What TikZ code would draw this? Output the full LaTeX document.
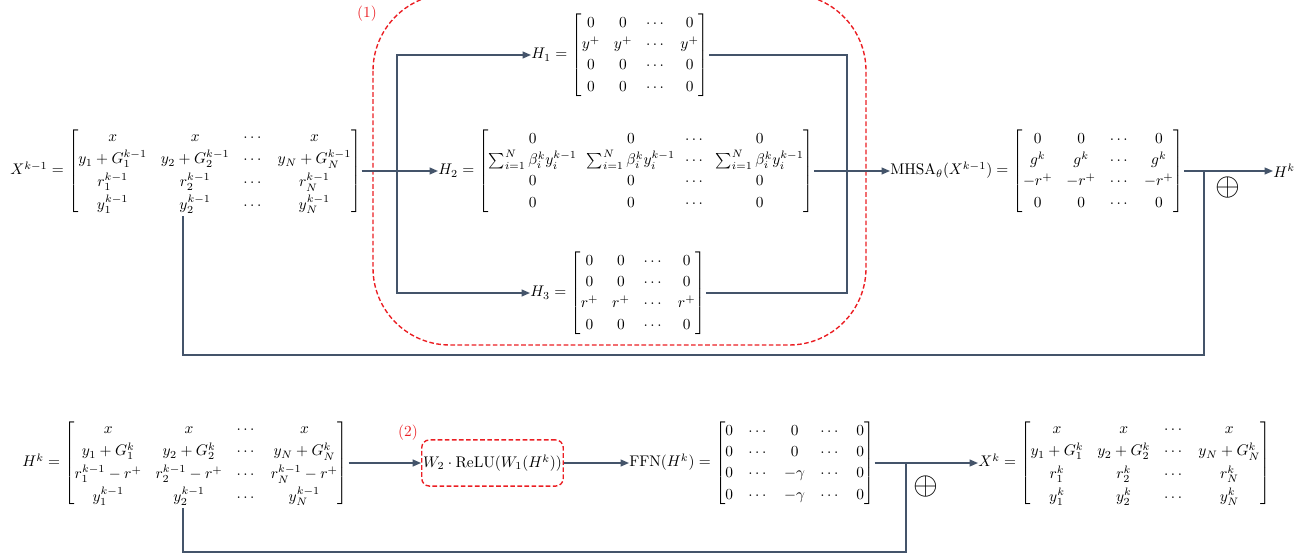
\documentclass[tikz,border=0pt]{standalone}
\usepackage{amsmath}
\usetikzlibrary{arrows.meta}
\definecolor{connc}{RGB}{68,84,106}
\definecolor{redc}{RGB}{235,30,35}
\setlength{\arraycolsep}{4.5pt}
\renewcommand{\arraystretch}{1.15}
\begin{document}
\begin{tikzpicture}[x=0.65pt,y=-0.65pt,
  conn/.style={draw=connc,line width=1pt},
  arr/.style={conn,-{Triangle[length=5.5pt,width=4.5pt]}},
  eqn/.style={inner sep=0pt,anchor=west},
  redbox/.style={draw=redc,line width=0.9pt,dash pattern=on 3pt off 1.6pt},
  lab/.style={text=redc,inner sep=0pt},
  plus/.style={inner sep=0pt,font=\fontsize{22}{26}\selectfont}]
\useasboundingbox (0,0) rectangle (1309,558);

% ---------- top row ----------
\node[eqn] (Xk1) at (10,171) {$X^{k-1}=\begin{bmatrix}
x & x & \cdots & x\\[1pt]
y_1+G_1^{k-1} & y_2+G_2^{k-1} & \cdots & y_N+G_N^{k-1}\\[1pt]
r_1^{k-1} & r_2^{k-1} & \cdots & r_N^{k-1}\\[1pt]
y_1^{k-1} & y_2^{k-1} & \cdots & y_N^{k-1}
\end{bmatrix}$};

\node[eqn] (H1) at (531,55) {$H_1=\begin{bmatrix}
0 & 0 & \cdots & 0\\
y^+ & y^+ & \cdots & y^+\\
0 & 0 & \cdots & 0\\
0 & 0 & \cdots & 0
\end{bmatrix}$};

\node[eqn] (H2) at (438,171) {\setlength{\arraycolsep}{3.3pt}$H_2=\begin{bmatrix}
0 & 0 & \cdots & 0\\
\sum_{i=1}^N\beta_i^k y_i^{k-1} & \sum_{i=1}^N\beta_i^k y_i^{k-1} & \cdots & \sum_{i=1}^N\beta_i^k y_i^{k-1}\\
0 & 0 & \cdots & 0\\
0 & 0 & \cdots & 0
\end{bmatrix}$};

\node[eqn] (H3) at (530,293) {$H_3=\begin{bmatrix}
0 & 0 & \cdots & 0\\
0 & 0 & \cdots & 0\\
r^+ & r^+ & \cdots & r^+\\
0 & 0 & \cdots & 0
\end{bmatrix}$};

\node[eqn] (MH) at (890,171) {$\mathrm{MHSA}_\theta(X^{k-1})=\begin{bmatrix}
0 & 0 & \cdots & 0\\
g^k & g^k & \cdots & g^k\\
-r^+ & -r^+ & \cdots & -r^+\\
0 & 0 & \cdots & 0
\end{bmatrix}$};

\node[eqn] (Hk1) at (1273,171) {$H^k$};
\node[plus] (p1) at (1228,188) {$\oplus$};

\draw[redbox,rounded corners=50] (373,-6) rectangle (866,345);
\node[lab] (l1) at (367,14) {(1)};

\coordinate (s1) at (397,171);
\coordinate (m1) at (847,171);
\coordinate (j1) at (1204,171);
\coordinate (r1) at (183,355);

\draw[arr] (Xk1.east) -- (H2.west);
\draw[arr] (s1) |- (H1.west);
\draw[arr] (s1) |- (H3.west);
\draw[conn] (H1.east) -| (m1);
\draw[conn] (H3.east) -| (m1);
\draw[arr] (H2.east) -- (MH.west);
\draw[arr] (MH.east) -- (Hk1.west);
\draw[conn] (j1) |- (r1) -- (Xk1.south -| r1);

% ---------- bottom row ----------
\node[eqn] (Hk2) at (22,463) {$H^k=\begin{bmatrix}
x & x & \cdots & x\\[1pt]
y_1+G_1^{k} & y_2+G_2^{k} & \cdots & y_N+G_N^{k}\\[1pt]
r_1^{k-1}-r^+ & r_2^{k-1}-r^+ & \cdots & r_N^{k-1}-r^+\\[1pt]
y_1^{k-1} & y_2^{k-1} & \cdots & y_N^{k-1}
\end{bmatrix}$};

\node[redbox,rounded corners=5pt,minimum width=92pt,minimum height=30pt,inner sep=0pt] (ffn) at (492.5,463) {$W_2\cdot\mathrm{ReLU}(W_1(H^k))$};
\node[lab] (l2) at (408,433) {(2)};

\node[eqn] (FFN) at (629,463) {\setlength{\arraycolsep}{5pt}$\mathrm{FFN}(H^k)=\begin{bmatrix}
0 & \cdots & 0 & \cdots & 0\\
0 & \cdots & 0 & \cdots & 0\\
0 & \cdots & -\gamma & \cdots & 0\\
0 & \cdots & -\gamma & \cdots & 0
\end{bmatrix}$};

\node[eqn] (Xk) at (978,463) {$X^k=\begin{bmatrix}
x & x & \cdots & x\\[1pt]
y_1+G_1^{k} & y_2+G_2^{k} & \cdots & y_N+G_N^{k}\\[1pt]
r_1^{k} & r_2^{k} & \cdots & r_N^{k}\\[1pt]
y_1^{k} & y_2^{k} & \cdots & y_N^{k}
\end{bmatrix}$};

\node[plus] (p2) at (926,487) {$\oplus$};

\coordinate (j2) at (906,463);
\coordinate (r2) at (183,552);

\draw[arr] (Hk2.east) -- (ffn.west);
\draw[arr] (ffn.east) -- (FFN.west);
\draw[arr] (FFN.east) -- (Xk.west);
\draw[conn] (j2) |- (r2) -- (Hk2.south -| r2);
\end{tikzpicture}
\end{document}
